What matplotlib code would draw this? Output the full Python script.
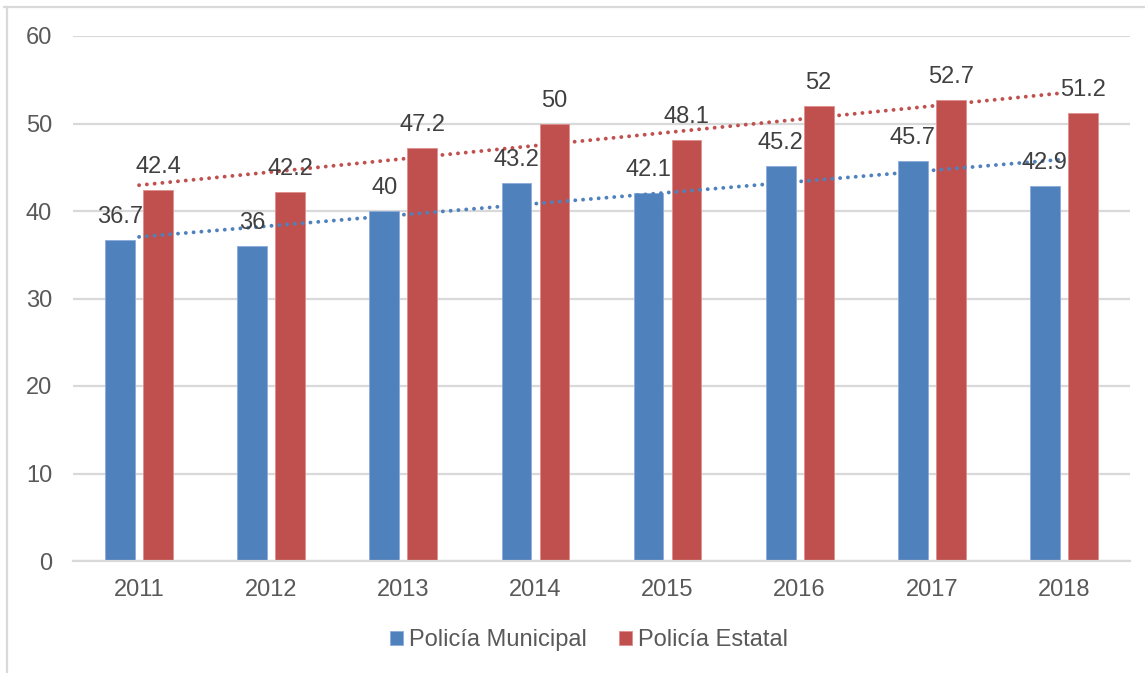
import numpy as np
import matplotlib.pyplot as plt
from matplotlib.lines import Line2D

plt.rcParams['font.family'] = ['Liberation Sans', 'DejaVu Sans']

years = ['2011', '2012', '2013', '2014', '2015', '2016', '2017', '2018']
municipal = [36.7, 36, 40, 43.2, 42.1, 45.2, 45.7, 42.9]
estatal = [42.4, 42.2, 47.2, 50, 48.1, 52, 52.7, 51.2]
series_names = ['Policía Municipal', 'Policía Estatal']

blue = '#4F81BD'
red = '#C0504D'
grid_gray = '#D9D9D9'
label_gray = '#595959'

fig = plt.figure(figsize=(11.45, 6.73), dpi=100)
ax = fig.add_axes([73 / 1145, 112 / 673, 1057 / 1145, 525 / 673])

x = np.arange(len(years))
width = 0.225
offset = 0.144

bars_m = ax.bar(x - offset, municipal, width, color=blue, edgecolor='#8EAADB',
                linewidth=0.6, label=series_names[0], zorder=2)
bars_e = ax.bar(x + offset, estatal, width, color=red, edgecolor='#E08F8D',
                linewidth=0.6, label=series_names[1], zorder=2)

# linear trendlines, dotted, drawn at category centres
for vals, col in [(municipal, blue), (estatal, red)]:
    k, b = np.polyfit(x, vals, 1)
    ax.plot(x, k * x + b, color=col, linewidth=2.8,
            linestyle=(0, (0.01, 2.0)), dash_capstyle='round', zorder=3)

# data labels
for bars, vals in [(bars_m, municipal), (bars_e, estatal)]:
    for rect, v in zip(bars, vals):
        ax.annotate(f'{v:g}', (rect.get_x() + rect.get_width() / 2, v),
                    xytext=(0, 16.5), textcoords='offset points',
                    ha='center', va='center', fontsize=17, color='#404040',
                    zorder=4)

ax.set_xlim(-0.5, len(years) - 0.5)
ax.set_ylim(0, 60)
ax.set_yticks(range(0, 61, 10))
ax.set_xticks(x)
ax.set_xticklabels(years)
ax.tick_params(axis='both', length=0, labelsize=17, labelcolor=label_gray)
ax.tick_params(axis='y', pad=15)
ax.tick_params(axis='x', pad=13)
ax.yaxis.grid(True, color=grid_gray, linewidth=1.6, zorder=0)
ax.set_axisbelow(True)
for side in ['top', 'right', 'left']:
    ax.spines[side].set_visible(False)
ax.spines['bottom'].set_color(grid_gray)
ax.spines['bottom'].set_linewidth(1.6)

leg = fig.legend(handles=[bars_m, bars_e], labels=series_names,
                 loc='center', bbox_to_anchor=(589 / 1145, 33 / 673),
                 ncol=2, frameon=False, fontsize=17,
                 handlelength=0.55, handleheight=0.55, handletextpad=0.25,
                 columnspacing=1.4)
for t in leg.get_texts():
    t.set_color(label_gray)

# chart frame (top and left edges visible)
fig.add_artist(Line2D([4 / 1145, 1.0], [1 - 7 / 673, 1 - 7 / 673],
                      color=grid_gray, linewidth=1.6))
fig.add_artist(Line2D([7 / 1145, 7 / 1145], [0, 1 - 7 / 673],
                      color=grid_gray, linewidth=1.6))

fig.savefig('out.png', dpi=100)
